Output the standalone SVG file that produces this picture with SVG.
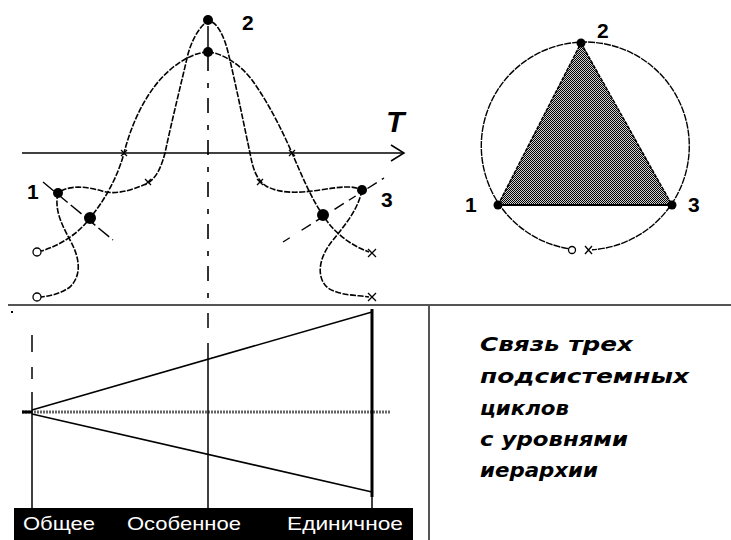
<svg xmlns="http://www.w3.org/2000/svg" width="731" height="540" viewBox="0 0 731 540">
<style>
.crv{fill:none;stroke:#000;stroke-width:1.6;stroke-dasharray:6 1.5}
.ln{fill:none;stroke:#000;stroke-width:1.5}
.dot{fill:#000}
.xm{fill:none;stroke:#000;stroke-width:1.3}
.oc{fill:#fff;stroke:#000;stroke-width:1.3}
.num{font-family:"Liberation Sans",Arial,sans-serif;font-weight:bold;font-size:21px;fill:#000}
.lvl{font-family:"Liberation Sans",Arial,sans-serif;font-size:19px;fill:#fff}
.cap{font-family:"DejaVu Sans","Liberation Sans",sans-serif;font-weight:bold;font-style:italic;font-size:20px;fill:#000}
.sep{stroke:#555;stroke-width:2;fill:none}
</style>
<defs>
<pattern id="dither" width="2" height="2" patternUnits="userSpaceOnUse">
<rect width="2" height="2" fill="#d0d0d0"/>
<rect width="1" height="1" fill="#000"/>
<rect x="1" y="1" width="1" height="1" fill="#000"/>
</pattern>
</defs>
<rect width="731" height="540" fill="#fff"/>

<g id="frame">
<line class="sep" x1="8" y1="305" x2="731" y2="305"/>
<line class="sep" x1="429" y1="305" x2="429" y2="540"/>
<rect x="11" y="311" width="2" height="2" fill="#000"/>
</g>

<g id="connectors">
<line class="ln" x1="22" y1="153" x2="404" y2="153"/>
<polyline class="ln" points="391,145 404,153 391,161"/>
<line x1="208" y1="56" x2="208" y2="300" stroke="#000" stroke-width="1.6" stroke-dasharray="15 12 5 10"/>
<line class="ln" x1="208" y1="26" x2="208" y2="48"/>
<path class="crv" d="M204,24 C198,30 192,40 188,54 C182,80 172,120 165,153 C160,172 154,180 146,184 C130,191 115,195 102,191 C88,187 70,184 58,193"/>
<path class="crv" d="M212,22 C218,25 224,36 228,52 C236,85 245,130 250,153 C253,170 257,180 266,186 C280,194 300,193 320,190 C340,187 352,185 362,190"/>
<path class="crv" d="M208,52 C195,52 175,62 158,82 C140,104 130,130 124,153 C118,176 105,200 90,218 C80,232 60,246 41,251"/>
<path class="crv" d="M208,52 C222,53 240,64 252,80 C268,102 282,130 292,153 C302,176 312,200 323,215 C333,232 350,245 369,252"/>
<path class="crv" d="M58,193 C54,210 62,225 70,240 C80,258 82,275 70,287 C60,294 50,296 41,297"/>
<path class="crv" d="M362,190 C358,210 345,225 333,240 C318,258 316,278 328,288 C340,296 358,295 369,297"/>
<line x1="43" y1="182" x2="113" y2="240" stroke="#000" stroke-width="1.4" stroke-dasharray="14 4"/>
<line x1="283" y1="242" x2="384" y2="178" stroke="#000" stroke-width="1.4" stroke-dasharray="8 14 11 6"/>
</g>

<g id="node-2-upper"><circle class="dot" cx="208" cy="20" r="5"/></g>
<g id="node-2-lower"><circle class="dot" cx="208" cy="52" r="5"/>
<text class="num" x="242" y="30">2</text></g>
<g id="node-1"><circle class="dot" cx="58" cy="193" r="5"/>
<text class="num" x="27" y="199">1</text></g>
<g id="node-1b"><circle class="dot" cx="90" cy="218" r="6"/></g>
<g id="node-3"><circle class="dot" cx="362" cy="190" r="5"/>
<text class="num" x="381" y="207">3</text></g>
<g id="node-3b"><circle class="dot" cx="323" cy="215" r="6"/></g>
<g id="markers">
<circle class="oc" cx="37" cy="252" r="4"/>
<circle class="oc" cx="37" cy="297" r="4"/>
<path class="xm" d="M121,150 l6,6 M127,150 l-6,6"/>
<path class="xm" d="M289,150 l6,6 M295,150 l-6,6"/>
<path class="xm" d="M145,179 l6,6 M151,179 l-6,6"/>
<path class="xm" d="M257,179 l6,6 M263,179 l-6,6"/>
<path class="xm" d="M368,249 l8,8 M376,249 l-8,8"/>
<path class="xm" d="M368,293 l8,8 M376,293 l-8,8"/>
</g>
<g id="label-T"><text x="386" y="132" font-family="Liberation Sans,Arial,sans-serif" font-weight="bold" font-style="italic" font-size="30">T</text></g>

<g id="circle-diagram">
<path d="M576,249.6 A104,104 0 1 1 592,249.8" fill="none" stroke="#000" stroke-width="1.4" stroke-dasharray="7 1"/>
<polygon points="498,205 581,43 672,205" fill="url(#dither)"/>
<line x1="498" y1="205" x2="581" y2="43" stroke="#000" stroke-width="1.5" stroke-dasharray="4 1"/>
<line x1="581" y1="43" x2="672" y2="205" stroke="#000" stroke-width="1.5" stroke-dasharray="4 1"/>
<line x1="498" y1="205" x2="672" y2="205" stroke="#000" stroke-width="2"/>
<circle class="oc" cx="572" cy="250" r="3.5"/>
<path class="xm" d="M585,246 l7,8 M592,246 l-7,8"/>
</g>
<g id="cnode-2"><circle class="dot" cx="581" cy="43" r="4.5"/><text class="num" x="597" y="38">2</text></g>
<g id="cnode-1"><circle class="dot" cx="498" cy="205" r="4.5"/><text class="num" x="465" y="212">1</text></g>
<g id="cnode-3"><circle class="dot" cx="672" cy="205" r="4.5"/><text class="num" x="688" y="212">3</text></g>

<g id="hierarchy">
<line x1="22" y1="412" x2="390" y2="412" stroke="#666" stroke-width="3" stroke-dasharray="2 1"/>
<line x1="22" y1="412" x2="32" y2="412" stroke="#000" stroke-width="3"/>
<line x1="32" y1="335" x2="32" y2="352" stroke="#000" stroke-width="1.5"/>
<line x1="32" y1="367" x2="32" y2="379" stroke="#000" stroke-width="1.5"/>
<line x1="32" y1="392" x2="32" y2="509" stroke="#000" stroke-width="1.5"/>
<line x1="208" y1="313" x2="208" y2="328" stroke="#000" stroke-width="1.5"/>
<line x1="208" y1="343" x2="208" y2="509" stroke="#000" stroke-width="1.5"/>
<line x1="32" y1="410" x2="372" y2="312" stroke="#000" stroke-width="1.6"/>
<line x1="32" y1="414" x2="372" y2="492" stroke="#000" stroke-width="1.6"/>
<line x1="372" y1="309" x2="372" y2="497" stroke="#000" stroke-width="3"/>
<line x1="372" y1="497" x2="372" y2="509" stroke="#000" stroke-width="1.5"/>
</g>
<g id="levels">
<rect x="14" y="508" width="399" height="32" fill="#000"/>
<text class="lvl" x="23" y="530" textLength="72" lengthAdjust="spacingAndGlyphs">Общее</text>
<text class="lvl" x="127" y="530" textLength="114" lengthAdjust="spacingAndGlyphs">Особенное</text>
<text class="lvl" x="287" y="530" textLength="116" lengthAdjust="spacingAndGlyphs">Единичное</text>
</g>
<g id="caption">
<text class="cap" x="480" y="351" textLength="153" lengthAdjust="spacingAndGlyphs">Связь трех</text>
<text class="cap" x="480" y="383" textLength="209" lengthAdjust="spacingAndGlyphs">подсистемных</text>
<text class="cap" x="480" y="415" textLength="89" lengthAdjust="spacingAndGlyphs">циклов</text>
<text class="cap" x="480" y="446" textLength="148" lengthAdjust="spacingAndGlyphs">с уровнями</text>
<text class="cap" x="480" y="477" textLength="118" lengthAdjust="spacingAndGlyphs">иерархии</text>
</g>
</svg>
